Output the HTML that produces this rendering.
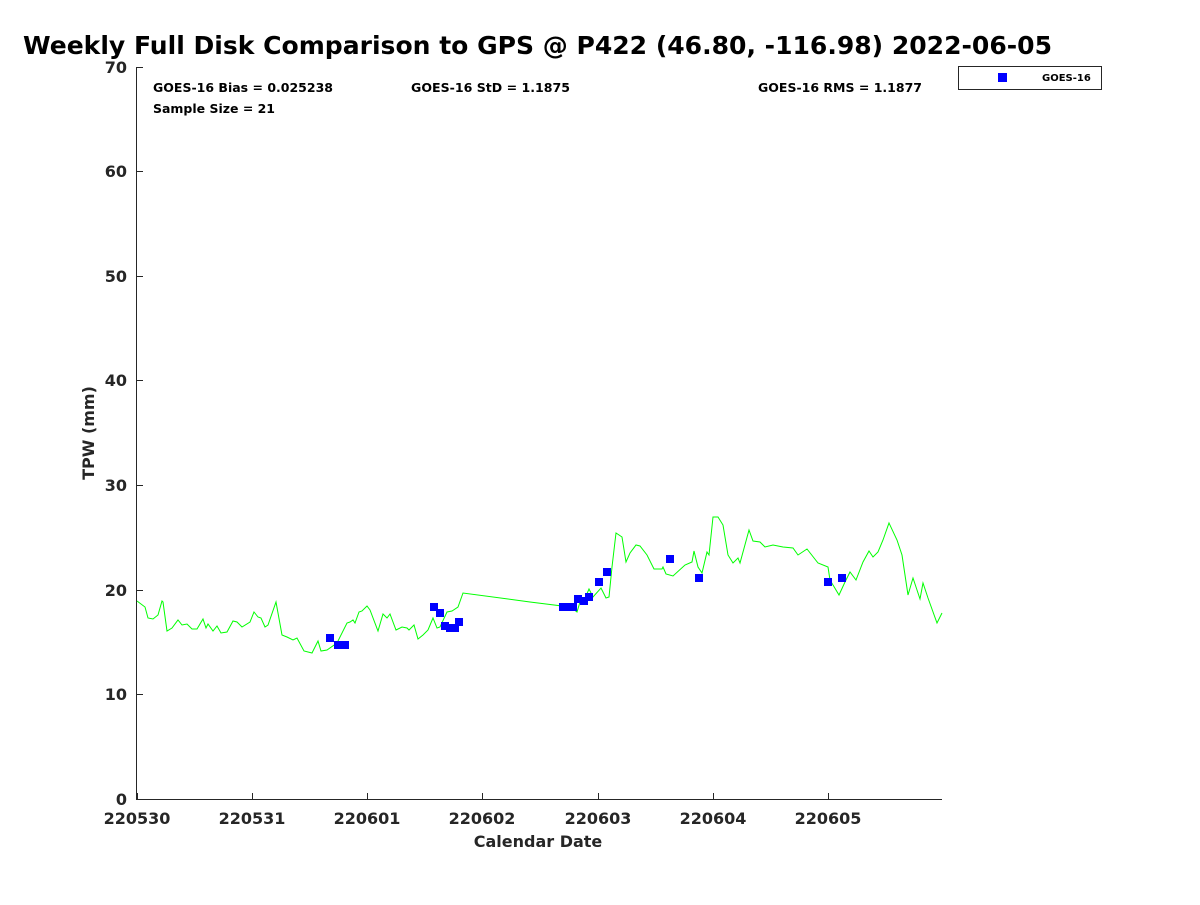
<!DOCTYPE html>
<html><head><meta charset="utf-8"><style>
body{margin:0;background:#fff}
svg text{font-family:"DejaVu Sans","Liberation Sans",sans-serif;font-weight:bold}
</style></head><body>
<svg width="1200" height="900" xmlns="http://www.w3.org/2000/svg">
<rect width="1200" height="900" fill="#fff"/>
<text x="23" y="54" font-size="25" fill="#000" textLength="1029" lengthAdjust="spacingAndGlyphs">Weekly Full Disk Comparison to GPS @ P422 (46.80, -116.98) 2022-06-05</text>
<g stroke="#262626" stroke-width="1" fill="none">
<line x1="136.5" y1="67" x2="136.5" y2="800"/>
<line x1="136" y1="799.5" x2="942" y2="799.5"/>
<path d="M136 67.5h7M136 171.5h7M136 276.5h7M136 380.5h7M136 485.5h7M136 590.5h7M136 694.5h7"/>
<path d="M137.5 800v-7M252.5 800v-7M367.5 800v-7M482.5 800v-7M598.5 800v-7M713.5 800v-7M828.5 800v-7"/>
</g>
<g font-size="16" fill="#262626" text-anchor="end">
<text x="127" y="73">70</text><text x="127" y="177">60</text><text x="127" y="282">50</text><text x="127" y="386">40</text><text x="127" y="491">30</text><text x="127" y="596">20</text><text x="127" y="700">10</text><text x="127" y="805">0</text>
</g>
<g font-size="16" fill="#262626" text-anchor="middle">
<text x="137" y="824">220530</text><text x="252" y="824">220531</text><text x="367" y="824">220601</text><text x="482" y="824">220602</text><text x="598" y="824">220603</text><text x="713" y="824">220604</text><text x="828" y="824">220605</text>
<text x="538" y="847">Calendar Date</text>
</g>
<text transform="translate(94,433) rotate(-90)" font-size="16" fill="#262626" text-anchor="middle">TPW (mm)</text>
<g font-size="12.3" fill="#000">
<text x="153" y="92" textLength="180" lengthAdjust="spacingAndGlyphs">GOES-16 Bias = 0.025238</text>
<text x="411" y="92" textLength="159" lengthAdjust="spacingAndGlyphs">GOES-16 StD = 1.1875</text>
<text x="758" y="92" textLength="164" lengthAdjust="spacingAndGlyphs">GOES-16 RMS = 1.1877</text>
<text x="153" y="113" textLength="122" lengthAdjust="spacingAndGlyphs">Sample Size = 21</text>
</g>
<rect x="958.5" y="66.5" width="143" height="23" fill="#fff" stroke="#262626"/>
<rect x="998" y="73" width="9" height="9" fill="#0000ff"/>
<text x="1042" y="81" font-size="10" fill="#000">GOES-16</text>
<polyline fill="none" stroke="#00ff00" stroke-width="1" points="137,601 145,607 148,618 153,619 158,615 162,601 163,602 167,631 172,628 178,620 182,625 187,624 192,629 197,629 203,619 206,628 208,624 213,631 217,626 221,633 227,632 233,621 237,622 242,627 250,622 254,612 258,617 261,618 265,627 268,625 276,602 282,635 287,637 293,640 297,638 304,651 312,653 318,641 321,651 327,650 337,643 347,623 350,622 353,620 355,623 359,612 362,611 367,606 370,610 378,631 383,614 387,618 390,614 396,630 402,627 407,628 409,630 414,625 418,639 423,635 428,630 433,618 437,628 440,627 447,612 452,611 458,607 463,593 530,602 562,606 568,610 572,608 577,612 580,602 583,603 589,589 593,597 601,588 606,598 609,597 612,567 616,533 622,537 626,562 630,553 636,545 640,546 647,555 654,569 662,569 663,567 666,574 673,576 685,565 692,562 694,551 698,567 702,573 707,552 709,555 713,517 718,517 723,525 728,555 733,563 738,558 740,563 749,530 753,541 760,542 765,547 773,545 783,547 793,548 798,555 807,549 818,563 828,567 830,580 833,585 839,595 845,582 850,572 856,580 863,562 869,551 873,557 878,552 883,540 889,523 897,540 902,555 908,595 913,578 920,599 923,583 928,598 937,623 942,613"/>
<g fill="#0000ff">
<rect x="326" y="634" width="8" height="8"/><rect x="334" y="641" width="8" height="8"/><rect x="341" y="641" width="8" height="8"/>
<rect x="430" y="603" width="8" height="8"/><rect x="436" y="609" width="8" height="8"/><rect x="441" y="622" width="8" height="8"/><rect x="446" y="624" width="8" height="8"/><rect x="451" y="624" width="8" height="8"/><rect x="455" y="618" width="8" height="8"/>
<rect x="559" y="603" width="8" height="8"/><rect x="564" y="603" width="8" height="8"/><rect x="569" y="603" width="8" height="8"/><rect x="574" y="595" width="8" height="8"/><rect x="580" y="597" width="8" height="8"/><rect x="585" y="593" width="8" height="8"/><rect x="595" y="578" width="8" height="8"/><rect x="603" y="568" width="8" height="8"/>
<rect x="666" y="555" width="8" height="8"/><rect x="695" y="574" width="8" height="8"/><rect x="824" y="578" width="8" height="8"/><rect x="838" y="574" width="8" height="8"/>
</g>
</svg>
</body></html>
